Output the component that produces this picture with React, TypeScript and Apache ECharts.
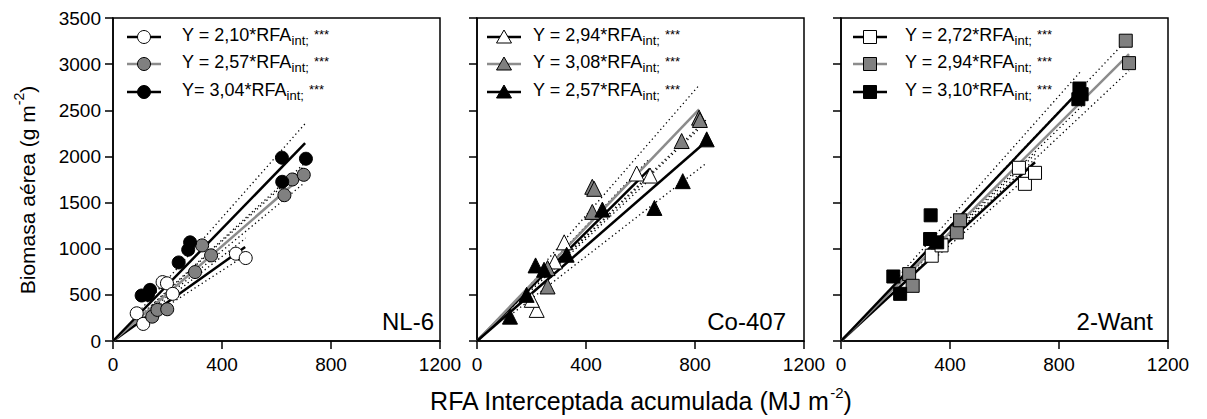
import React, { useEffect, useRef } from 'react';
import * as echarts from 'echarts';

// ---------- data ----------
const xTickMax = 1200;
const xTickStep = 400;
const yTickMax = 3500;
const yTickStep = 500;

const panelNames = ['NL-6', 'Co-407', '2-Want'];

// NL-6 (circles)
const nlWhite = [[87, 300], [111, 185], [182, 638], [198, 625], [219, 511], [451, 946], [487, 899]];
const nlGray = [[144, 264], [163, 337], [199, 344], [301, 747], [327, 1036], [360, 928], [629, 1580], [658, 1750], [700, 1801]];
const nlBlack = [[105, 493], [136, 554], [128, 500], [241, 851], [276, 989], [283, 1069], [620, 1986], [621, 1725], [708, 1975]];
const nlWhiteFit = [[0, 0], [485, 1019]];
const nlGrayFit = [[0, 0], [700, 1799]];
const nlBlackFit = [[0, 0], [705, 2143]];
const nlWhiteCI = [[[87, 199], [487, 1115]], [[87, 166], [487, 930]]];
const nlGrayCI = [[[144, 389], [700, 1890]], [[144, 351], [700, 1708]]];
const nlBlackCI = [[[105, 351], [708, 2365]], [[105, 287], [708, 1940]]];
const nlLabels = ['Y = 2,10*RFA', 'Y = 2,57*RFA', 'Y= 3,04*RFA'];

// Co-407 (triangles)
const coWhite = [[219, 337], [201, 446], [286, 862], [320, 1069], [586, 1815], [635, 1793]];
const coGray = [[259, 591], [259, 790], [423, 1671], [430, 1649], [423, 1399], [751, 2167], [815, 2420], [818, 2395]];
const coBlack = [[121, 264], [182, 500], [215, 819], [246, 772], [329, 935], [460, 1424], [651, 1442], [755, 1732], [843, 2185]];
const coWhiteFit = [[0, 0], [635, 1867]];
const coGrayFit = [[0, 0], [815, 2510]];
const coBlackFit = [[0, 0], [843, 2167]];
const coWhiteCI = [[[201, 627], [635, 1981]], [[201, 555], [635, 1753]]];
const coGrayCI = [[[259, 881], [818, 2781]], [[259, 730], [818, 2307]]];
const coBlackCI = [[[121, 345], [843, 2403]], [[121, 277], [843, 1930]]];
const coLabels = ['Y = 2,94*RFA', 'Y = 3,08*RFA', 'Y = 2,57*RFA'];

// 2-Want (squares)
const waWhite = [[333, 924], [369, 1036], [653, 1877], [675, 1703], [712, 1822]];
const waGray = [[250, 725], [263, 598], [425, 1177], [437, 1308], [1045, 3254], [1057, 3011]];
const waBlack = [[192, 699], [217, 511], [329, 1362], [327, 1105], [353, 1069], [875, 2736], [871, 2620], [883, 2674]];
const waWhiteFit = [[0, 0], [712, 1937]];
const waGrayFit = [[0, 0], [1057, 3108]];
const waBlackFit = [[0, 0], [883, 2737]];
const waWhiteCI = [[[333, 946], [712, 2022]], [[333, 866], [712, 1851]]];
const waGrayCI = [[[250, 778], [1057, 3287]], [[250, 693], [1057, 2928]]];
const waBlackCI = [[[192, 637], [883, 2932]], [[192, 553], [883, 2543]]];
const waLabels = ['Y = 2,72*RFA', 'Y = 2,94*RFA', 'Y = 3,10*RFA'];

const subText = 'int;';
const starText = '***';
const yTitleMain = 'Biomasa aérea (g m';
const xTitleMain = 'RFA Interceptada acumulada (MJ m';
const supText = '-2';

// ---------- styling ----------
const FONT = 'Arial, "Liberation Sans", sans-serif';
const fills = ['#ffffff', '#808080', '#000000'];
const lineColors = ['#000000', '#8c8c8c', '#000000'];
const gridLefts = [113, 477, 841];
const gridTop = 18;
const gridW = 327;
const gridH = 323;
const TICK_FS = 19;
const LEG_FS = 18;

function measure(text: string, size: number) {
  const c = document.createElement('canvas').getContext('2d');
  if (!c) return text.length * size * 0.55;
  c.font = `${size}px Arial, "Liberation Sans", sans-serif`;
  return c.measureText(text).width;
}

export default function App() {
  const ref = useRef<HTMLDivElement>(null);
  useEffect(() => {
    if (!ref.current) return;
    const chart = echarts.init(ref.current, null, { renderer: 'svg' });

    const panels = [
      { sym: 'circle', pts: [nlWhite, nlGray, nlBlack], fits: [nlWhiteFit, nlGrayFit, nlBlackFit], cis: [nlWhiteCI, nlGrayCI, nlBlackCI], labels: nlLabels },
      { sym: 'triangle', pts: [coWhite, coGray, coBlack], fits: [coWhiteFit, coGrayFit, coBlackFit], cis: [coWhiteCI, coGrayCI, coBlackCI], labels: coLabels },
      { sym: 'rect', pts: [waWhite, waGray, waBlack], fits: [waWhiteFit, waGrayFit, waBlackFit], cis: [waWhiteCI, waGrayCI, waBlackCI], labels: waLabels },
    ];

    const grid = gridLefts.map((l) => ({
      left: l, top: gridTop, width: gridW, height: gridH,
      show: true, borderColor: '#000', borderWidth: 1.5, backgroundColor: 'transparent',
    }));

    const plain = (v: number) => String(v);
    const xAxis = gridLefts.map((_, i) => ({
      type: 'value', gridIndex: i, min: 0, max: xTickMax, interval: xTickStep,
      axisLine: { show: true, onZero: false, lineStyle: { color: '#000', width: 1.5 } },
      axisTick: { show: true, inside: false, length: 8, lineStyle: { color: '#000', width: 1.5 } },
      axisLabel: { show: true, color: '#000', fontSize: TICK_FS, fontFamily: FONT, margin: 14, formatter: plain },
      splitLine: { show: false },
    }));
    const yAxis = gridLefts.map((_, i) => ({
      type: 'value', gridIndex: i, min: 0, max: yTickMax, interval: yTickStep,
      axisLine: { show: true, onZero: false, lineStyle: { color: '#000', width: 1.5 } },
      axisTick: { show: true, inside: false, length: 8, lineStyle: { color: '#000', width: 1.5 } },
      axisLabel: { show: i === 0, color: '#000', fontSize: TICK_FS, fontFamily: FONT, margin: 12, formatter: plain },
      splitLine: { show: false },
    }));

    const series: any[] = [];
    panels.forEach((p, gi) => {
      for (let k = 0; k < 3; k++) {
        p.cis[k].forEach((ci) => {
          series.push({
            type: 'line', xAxisIndex: gi, yAxisIndex: gi, data: ci, symbol: 'none', silent: true, z: 2,
            lineStyle: { color: '#000', width: 1.3, type: [1.3, 3] },
          });
        });
      }
      for (let k = 0; k < 3; k++) {
        series.push({
          type: 'line', xAxisIndex: gi, yAxisIndex: gi, data: p.fits[k], symbol: 'none', silent: true, z: 3,
          lineStyle: { color: lineColors[k], width: 2.5 },
        });
      }
      for (let k = 0; k < 3; k++) {
        series.push({
          type: 'scatter', xAxisIndex: gi, yAxisIndex: gi, data: p.pts[k], symbol: p.sym,
          symbolSize: p.sym === 'triangle' ? 15 : 13, silent: true, z: 5,
          itemStyle: { color: fills[k], borderColor: '#000', borderWidth: 1, opacity: 1 },
        });
      }
    });

    // ----- graphics: legends, panel names, titles -----
    const graphic: any[] = [];
    const legendRowsY = [35, 62, 90];
    const legendSegX = [127, 487, 853];
    const legendTextX = [182, 533, 905];
    panels.forEach((p, gi) => {
      legendRowsY.forEach((y, k) => {
        const x0 = legendSegX[gi];
        const cx = x0 + 17;
        const sy = y + 2;
        graphic.push({ type: 'line', shape: { x1: x0, y1: sy, x2: x0 + 34, y2: sy }, style: { stroke: lineColors[k], lineWidth: 2.5 }, z: 10 });
        if (p.sym === 'circle') {
          graphic.push({ type: 'circle', shape: { cx, cy: sy, r: 6.5 }, style: { fill: fills[k], stroke: '#000', lineWidth: 1 }, z: 11 });
        } else if (p.sym === 'triangle') {
          graphic.push({ type: 'polygon', shape: { points: [[cx, sy - 7], [cx + 7.5, sy + 6], [cx - 7.5, sy + 6]] }, style: { fill: fills[k], stroke: '#000', lineWidth: 1 }, z: 11 });
        } else {
          graphic.push({ type: 'rect', shape: { x: cx - 6.5, y: sy - 6.5, width: 13, height: 13 }, style: { fill: fills[k], stroke: '#000', lineWidth: 1 }, z: 11 });
        }
        const tx = legendTextX[gi];
        const main = p.labels[k];
        const w1 = measure(main, LEG_FS);
        const w2 = measure(subText, 13);
        graphic.push({ type: 'text', x: tx, y, z: 12, style: { text: main, fontSize: LEG_FS, fontFamily: FONT, fill: '#000', textAlign: 'left', textVerticalAlign: 'middle', verticalAlign: 'middle' } });
        graphic.push({ type: 'text', x: tx + w1, y: y + 5, z: 12, style: { text: subText, fontSize: 13, fontFamily: FONT, fill: '#000', textAlign: 'left', textVerticalAlign: 'middle', verticalAlign: 'middle' } });
        graphic.push({ type: 'text', x: tx + w1 + w2 + 5, y: y - 1, z: 12, style: { text: starText, fontSize: 13, fontFamily: FONT, fill: '#000', textAlign: 'left', textVerticalAlign: 'middle', verticalAlign: 'middle' } });
      });
    });

    const nameRight = [434, 786, 1153];
    panelNames.forEach((n, i) => {
      graphic.push({ type: 'text', x: nameRight[i], y: 321, z: 12, style: { text: n, fontSize: 24, fontFamily: FONT, fill: '#000', textAlign: 'right', textVerticalAlign: 'middle', verticalAlign: 'middle' } });
    });

    // x title
    const xs = 25;
    const xw1 = measure(xTitleMain, xs);
    const xw2 = measure(supText, 15);
    const xw3 = measure(')', xs);
    const xStart = 641 - (xw1 + xw2 + xw3) / 2;
    const xy = 401;
    graphic.push({ type: 'text', x: xStart, y: xy, style: { text: xTitleMain, fontSize: xs, fontFamily: FONT, fill: '#000', textAlign: 'left', textVerticalAlign: 'middle', verticalAlign: 'middle' } });
    graphic.push({ type: 'text', x: xStart + xw1, y: xy - 9, style: { text: supText, fontSize: 15, fontFamily: FONT, fill: '#000', textAlign: 'left', textVerticalAlign: 'middle', verticalAlign: 'middle' } });
    graphic.push({ type: 'text', x: xStart + xw1 + xw2, y: xy, style: { text: ')', fontSize: xs, fontFamily: FONT, fill: '#000', textAlign: 'left', textVerticalAlign: 'middle', verticalAlign: 'middle' } });

    // y title (rotated)
    const ys = 21;
    const yw1 = measure(yTitleMain, ys);
    const yw2 = measure(supText, 14);
    const yw3 = measure(')', ys);
    const yStart = -(yw1 + yw2 + yw3) / 2;
    graphic.push({
      type: 'group', x: 27, y: 190, rotation: Math.PI / 2,
      children: [
        { type: 'text', x: yStart, y: 0, style: { text: yTitleMain, fontSize: ys, fontFamily: FONT, fill: '#000', textAlign: 'left', textVerticalAlign: 'middle', verticalAlign: 'middle' } },
        { type: 'text', x: yStart + yw1, y: -8, style: { text: supText, fontSize: 14, fontFamily: FONT, fill: '#000', textAlign: 'left', textVerticalAlign: 'middle', verticalAlign: 'middle' } },
        { type: 'text', x: yStart + yw1 + yw2, y: 0, style: { text: ')', fontSize: ys, fontFamily: FONT, fill: '#000', textAlign: 'left', textVerticalAlign: 'middle', verticalAlign: 'middle' } },
      ],
    });

    chart.setOption({
      animation: false,
      backgroundColor: '#ffffff',
      grid, xAxis, yAxis, series, graphic,
    });
    return () => chart.dispose();
  }, []);
  return <div ref={ref} style={{ position: 'absolute', left: 0, top: 0, width: 1207, height: 419 }} />;
}
